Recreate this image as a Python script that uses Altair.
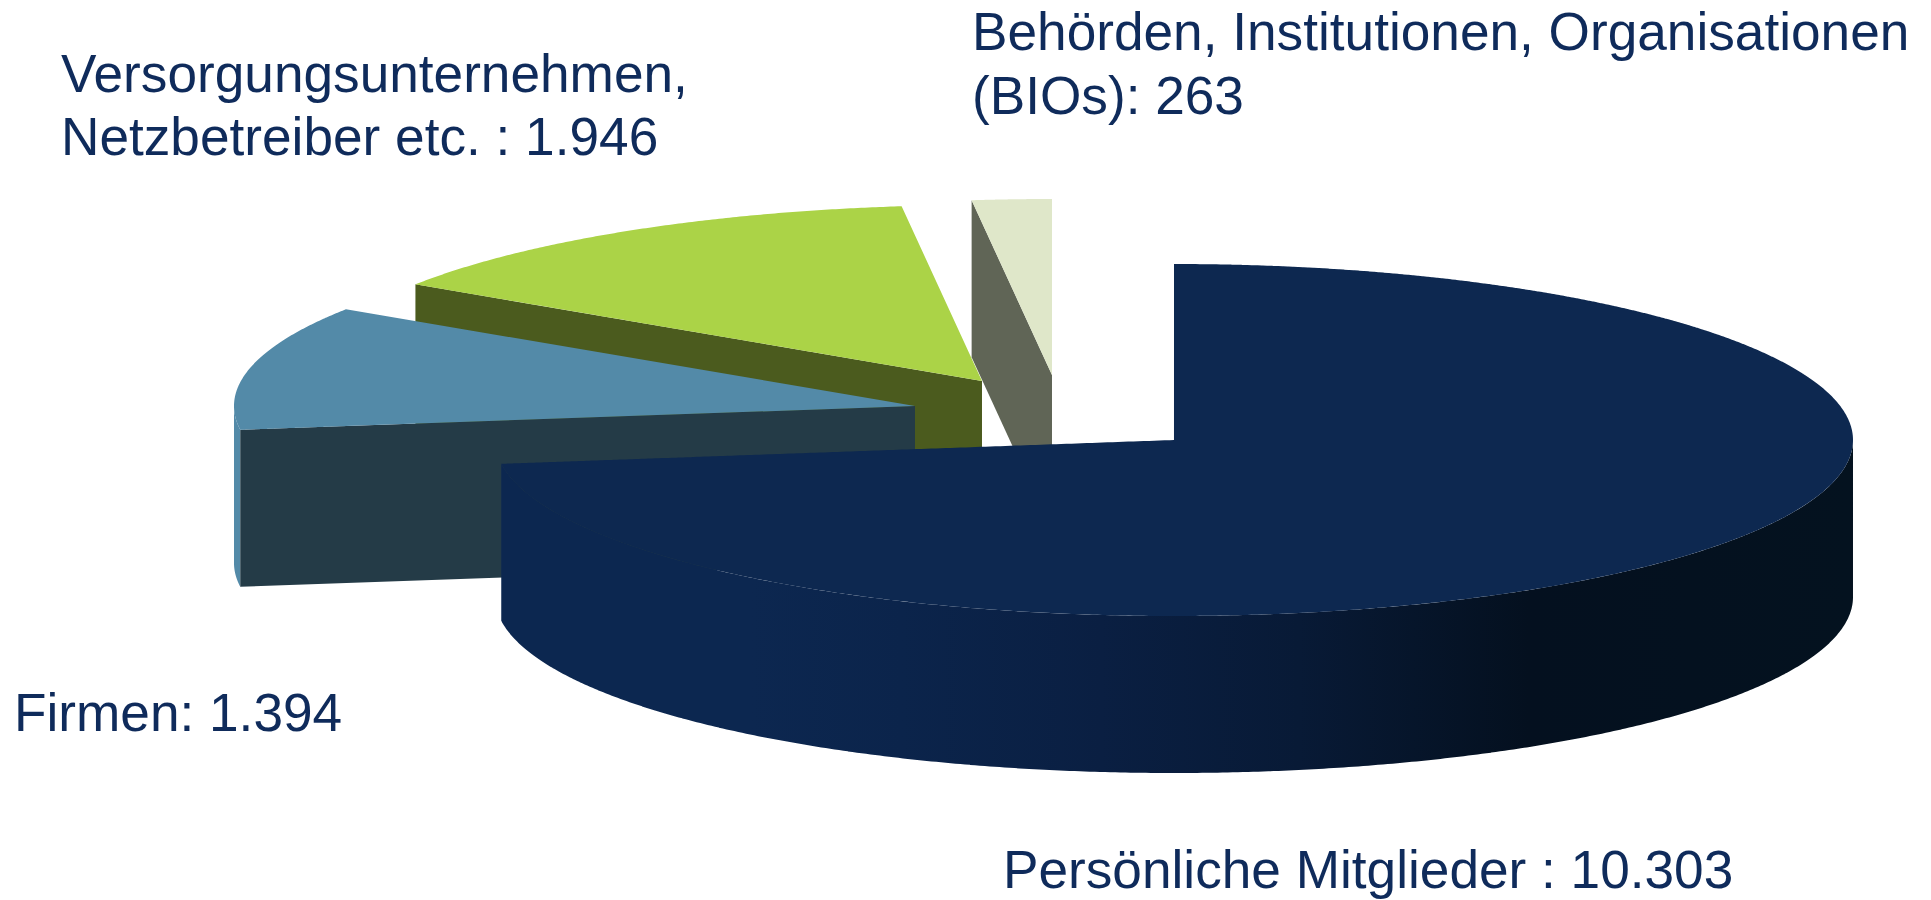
import numpy as np
import pandas as pd
import altair as alt

# --- chart values ---
categories = ["Persönliche Mitglieder", "Firmen", "Versorgungsunternehmen", "BIOs"]
members = [10303, 1394, 1946, 263]
label_lines = [
    ["Persönliche Mitglieder : 10.303"],
    ["Firmen: 1.394"],
    ["Versorgungsunternehmen,", "Netzbetreiber etc. : 1.946"],
    ["Behörden, Institutionen, Organisationen", "(BIOs): 263"],
]

# --- styling and layout of the tilted, exploded pie ---
top_colors = ["#0d2850", "#538aa8", "#abd347", "#dfe7c9"]
face_colors = ["#0b2349", "#243b47", "#4b5b1e", "#606556"]
wall_stops = [(0.0, "#0c2750"), (0.185, "#0c2750"), (0.296, "#0b244b"), (0.444, "#0a1f42"),
              (0.59, "#081a36"), (0.76, "#04101f"), (1.0, "#04121f")]
text_color = "#0f2b5b"
apex = [(1174, 440), (915, 406), (982, 381), (1052, 375)]
label_anchor = [[(1003, 888)], [(14, 731)], [(61, 92), (61, 155)], [(972, 50), (972, 114)]]
RXS = [679.0, 681.0, 678.0, 678.0]
RY, DEPTH = 176.0, 157.0
FONT_SIZE = 53.2
BOUNDARY_TILT_DEG = [-4.5, 0.5, 0.0, 0.0]   # the view foreshortens the slice boundaries
W, H, M = 1915, 892, 8

# --- angles come from the values ---
share = np.cumsum(members) / np.sum(members) * 360.0
ends = share + np.array(BOUNDARY_TILT_DEG)
starts = np.concatenate([[0.0], ends[:-1]])


def rim(i, a0, a1, n=160, drop=0.0):
    t = np.radians(np.linspace(a0, a1, n))
    cx, cy = apex[i]
    return list(zip(cx + RXS[i] * np.sin(t), cy - RY * np.cos(t) + drop))


def envelope(poly):
    """Turn a column-convex polygon into x / y / y2 rows for an area mark."""
    p = np.array(poly, dtype=float)
    q = np.roll(p, -1, axis=0)
    xs = np.unique(np.round(p[:, 0], 3))
    rows = []
    for x0 in xs:
        for x in (x0 - 0.01, x0 + 0.01):
            hits = []
            for (xa, ya), (xb, yb) in zip(p, q):
                if min(xa, xb) <= x <= max(xa, xb) and xa != xb:
                    hits.append(ya + (x - xa) / (xb - xa) * (yb - ya))
            if len(hits) >= 2:
                rows.append({"x": x, "y": min(hits), "y2": max(hits)})
    return pd.DataFrame(rows)


sx = alt.Scale(domain=[M, M + W], nice=False, zero=False)
sy = alt.Scale(domain=[M + H, M], nice=False, zero=False)


def area(poly, color):
    return alt.Chart(envelope(poly)).mark_area(color=color, opacity=1, strokeWidth=0).encode(
        x=alt.X("x:Q", scale=sx, axis=None),
        y=alt.Y("y:Q", scale=sy, axis=None),
        y2="y2:Q",
    )


layers = []
# draw from the back (small slices) to the front (large slice)
for i in [3, 2, 1]:
    a0, a1 = starts[i], ends[i]
    cx, cy = apex[i]
    edge = rim(i, a0, a0, 1)[0]
    if i == 1:
        # sliver of outer wall at the far left
        layers.append(area(rim(i, a0, 270) + rim(i, 270, a0, drop=DEPTH), top_colors[i]))
    # radial face at the start boundary
    layers.append(area([(cx, cy), edge, (edge[0], edge[1] + DEPTH), (cx, cy + DEPTH)], face_colors[i]))
    layers.append(area([(cx, cy)] + rim(i, a0, a1), top_colors[i]))

# main slice: wall with shading, then top
up = rim(0, 90, ends[0], 400)
down = rim(0, ends[0], 90, 400, drop=DEPTH)
wall_gradient = alt.Gradient(
    gradient="linear", x1=0, x2=1, y1=0, y2=0,
    stops=[alt.GradientStop(offset=o, color=c) for o, c in wall_stops],
)
layers.append(area(up + down, wall_gradient))
layers.append(area([apex[0]] + rim(0, 0, ends[0], 600), top_colors[0]))

# labels
label_rows = []
for lines, anchors in zip(label_lines, label_anchor):
    for line, (lx, ly) in zip(lines, anchors):
        label_rows.append({"x": lx, "y": ly, "t": line})
labels = alt.Chart(pd.DataFrame(label_rows)).mark_text(
    align="left", baseline="alphabetic", font="Liberation Sans", fontSize=FONT_SIZE, color=text_color
).encode(
    x=alt.X("x:Q", scale=sx, axis=None),
    y=alt.Y("y:Q", scale=sy, axis=None),
    text="t:N",
)
layers.append(labels)

chart = alt.layer(*layers).properties(
    width=W, height=H, padding=0, background="white",
    autosize=alt.AutoSizeParams(type="none"),
).configure_view(stroke=None)

chart.save("out.html", embed_options={"renderer": "svg", "actions": False})
